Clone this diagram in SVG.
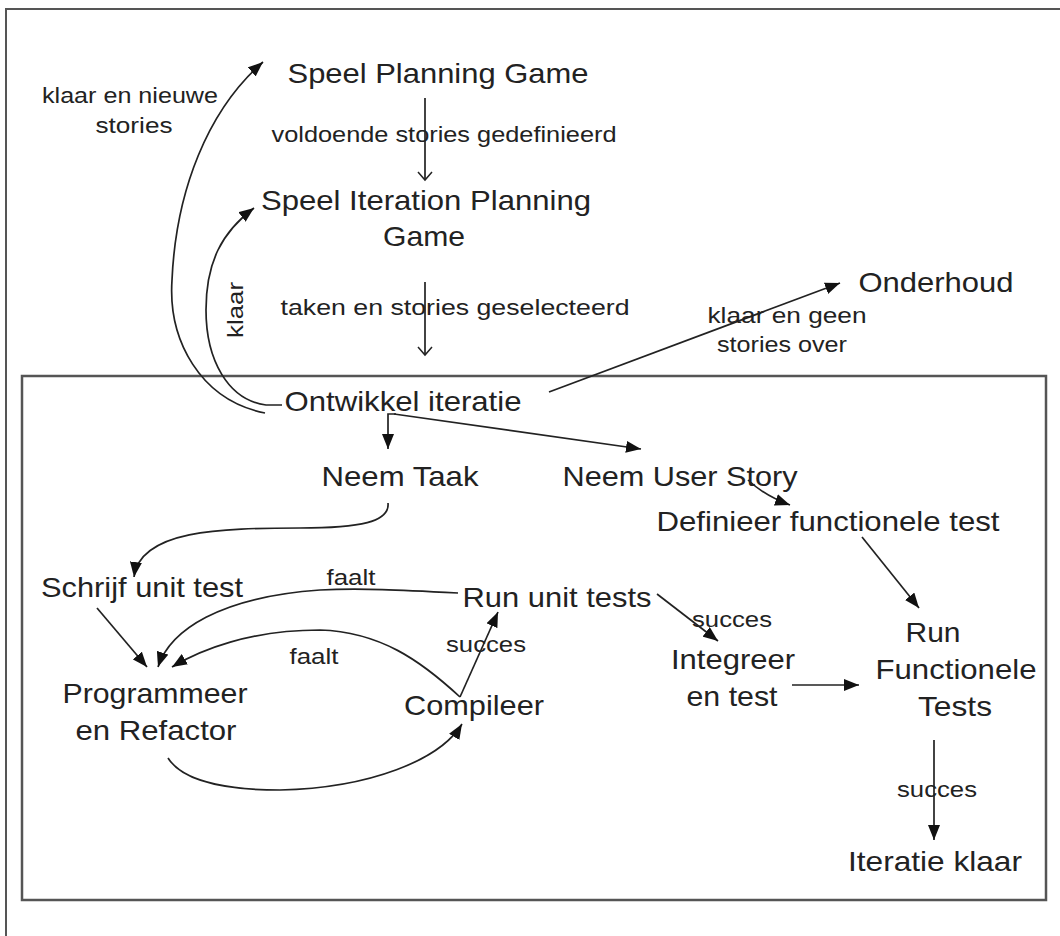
<svg xmlns="http://www.w3.org/2000/svg" width="1060" height="936" viewBox="0 0 1060 936">
<style>
text{font-family:"Liberation Sans",Arial,sans-serif;fill:#222;text-anchor:middle}
.n{font-size:28px}
.l{font-size:22px}
.c{fill:none;stroke:#222;stroke-width:1.7}
</style>
<defs>
<marker id="a" markerUnits="userSpaceOnUse" markerWidth="16" markerHeight="12" refX="15" refY="6" orient="auto"><path d="M0,0 L15,6 L0,12 z" fill="#111"/></marker>
<marker id="v" markerUnits="userSpaceOnUse" markerWidth="12" markerHeight="18" refX="9" refY="8" orient="auto"><path d="M1,1 L9,8 L1,15" fill="none" stroke="#222" stroke-width="1.5"/></marker>
</defs>
<rect width="1060" height="936" fill="#fff"/>
<path d="M6,936 V9 H1060" fill="none" stroke="#555" stroke-width="2"/>
<rect id="iteratie-frame" x="22" y="376" width="1024" height="524" fill="none" stroke="#555" stroke-width="2.5"/>

<g id="connectors">
<path class="c" d="M425,98 V180" marker-end="url(#v)"/>
<path class="c" d="M425,282 V355" marker-end="url(#v)"/>
<path class="c" d="M265,413 C200,400 168,340 172,280 C176,190 208,110 263,62" marker-end="url(#a)"/>
<path class="c" d="M282,405 L266,405 C228,400 206,360 206,310 C206,262 222,232 254,208" marker-end="url(#a)"/>
<path class="c" d="M549,392 L840,283" marker-end="url(#a)"/>
<path class="c" d="M396,414 H388 V449" marker-end="url(#a)"/>
<path class="c" d="M394,414 L641,449" marker-end="url(#a)"/>
<path class="c" d="M748,480 Q765,496 790,505" marker-end="url(#a)"/>
<path class="c" d="M862,537 L919,608" marker-end="url(#a)"/>
<path class="c" d="M388,503 C390,522 360,528 300,528 C220,528 140,530 134,577" marker-end="url(#a)"/>
<path class="c" d="M97,608 L147,667" marker-end="url(#a)"/>
<path class="c" d="M458,593 C400,590 360,588 320,590 C220,597 170,630 158,667" marker-end="url(#a)"/>
<path class="c" d="M460,697 C420,660 380,632 320,630 C250,630 200,650 172,667" marker-end="url(#a)"/>
<path class="c" d="M460,697 L498,612" marker-end="url(#a)"/>
<path class="c" d="M168,758 C185,785 240,790 280,790 C370,788 440,760 462,724" marker-end="url(#a)"/>
<path class="c" d="M657,594 L718,641" marker-end="url(#a)"/>
<path class="c" d="M792,685 L859,685" marker-end="url(#a)"/>
<path class="c" d="M934,740 L934,840" marker-end="url(#a)"/>
</g>

<g id="labels">
<text class="l" x="444" y="142" textLength="345" lengthAdjust="spacingAndGlyphs">voldoende stories gedefinieerd</text>
<text class="l" x="455" y="315" textLength="349" lengthAdjust="spacingAndGlyphs">taken en stories geselecteerd</text>
<text class="l" x="130" y="103" textLength="176" lengthAdjust="spacingAndGlyphs">klaar en nieuwe</text>
<text class="l" x="134" y="133" textLength="77" lengthAdjust="spacingAndGlyphs">stories</text>
<text class="l" transform="translate(243,310) rotate(-90)" x="0" y="0" textLength="56" lengthAdjust="spacingAndGlyphs">klaar</text>
<text class="l" x="787" y="323" textLength="159" lengthAdjust="spacingAndGlyphs">klaar en geen</text>
<text class="l" x="782" y="352" textLength="130" lengthAdjust="spacingAndGlyphs">stories over</text>
<text class="l" x="351" y="585" textLength="49" lengthAdjust="spacingAndGlyphs">faalt</text>
<text class="l" x="732" y="627" textLength="80" lengthAdjust="spacingAndGlyphs">succes</text>
<text class="l" x="314" y="664" textLength="49" lengthAdjust="spacingAndGlyphs">faalt</text>
<text class="l" x="486" y="652" textLength="80" lengthAdjust="spacingAndGlyphs">succes</text>
<text class="l" x="937" y="797" textLength="80" lengthAdjust="spacingAndGlyphs">succes</text>
</g>

<g id="speel-planning-game"><text class="n" x="438" y="83" textLength="301" lengthAdjust="spacingAndGlyphs">Speel Planning Game</text></g>
<g id="speel-iteration-planning-game">
<text class="n" x="426" y="210" textLength="330" lengthAdjust="spacingAndGlyphs">Speel Iteration Planning</text>
<text class="n" x="424" y="246" textLength="82" lengthAdjust="spacingAndGlyphs">Game</text>
</g>
<g id="onderhoud"><text class="n" x="936" y="292" textLength="155" lengthAdjust="spacingAndGlyphs">Onderhoud</text></g>
<g id="ontwikkel-iteratie"><text class="n" x="403" y="411" textLength="237" lengthAdjust="spacingAndGlyphs">Ontwikkel iteratie</text></g>
<g id="neem-taak"><text class="n" x="400" y="486" textLength="157" lengthAdjust="spacingAndGlyphs">Neem Taak</text></g>
<g id="neem-user-story"><text class="n" x="680" y="486" textLength="235" lengthAdjust="spacingAndGlyphs">Neem User Story</text></g>
<g id="definieer-functionele-test"><text class="n" x="828" y="531" textLength="343" lengthAdjust="spacingAndGlyphs">Definieer functionele test</text></g>
<g id="schrijf-unit-test"><text class="n" x="142" y="597" textLength="202" lengthAdjust="spacingAndGlyphs">Schrijf unit test</text></g>
<g id="run-unit-tests"><text class="n" x="557" y="607" textLength="189" lengthAdjust="spacingAndGlyphs">Run unit tests</text></g>
<g id="programmeer-en-refactor">
<text class="n" x="155" y="703" textLength="185" lengthAdjust="spacingAndGlyphs">Programmeer</text>
<text class="n" x="156" y="740" textLength="161" lengthAdjust="spacingAndGlyphs">en Refactor</text>
</g>
<g id="compileer"><text class="n" x="474" y="715" textLength="140" lengthAdjust="spacingAndGlyphs">Compileer</text></g>
<g id="integreer-en-test">
<text class="n" x="733" y="669" textLength="124" lengthAdjust="spacingAndGlyphs">Integreer</text>
<text class="n" x="732" y="706" textLength="91" lengthAdjust="spacingAndGlyphs">en test</text>
</g>
<g id="run-functionele-tests">
<text class="n" x="933" y="642" textLength="55" lengthAdjust="spacingAndGlyphs">Run</text>
<text class="n" x="956" y="679" textLength="161" lengthAdjust="spacingAndGlyphs">Functionele</text>
<text class="n" x="955" y="716" textLength="74" lengthAdjust="spacingAndGlyphs">Tests</text>
</g>
<g id="iteratie-klaar"><text class="n" x="935" y="871" textLength="174" lengthAdjust="spacingAndGlyphs">Iteratie klaar</text></g>
</svg>
